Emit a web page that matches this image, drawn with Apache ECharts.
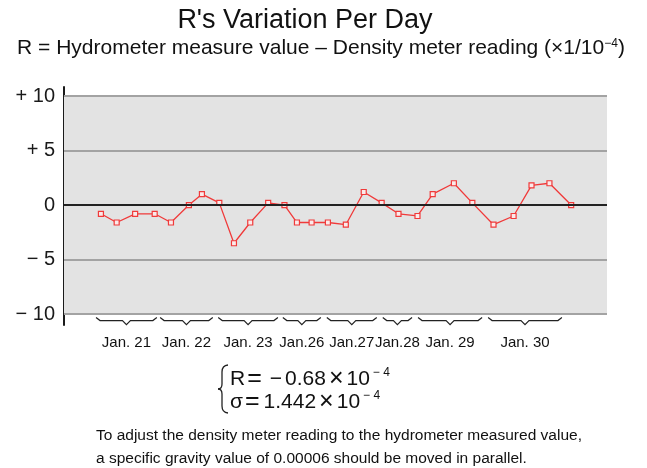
<!DOCTYPE html>
<html>
<head>
<meta charset="utf-8">
<script src="https://cdn.jsdelivr.net/npm/echarts@6/dist/echarts.min.js"></script>
<style>
html,body{margin:0;padding:0;background:#fff;}
#chart{width:647px;height:468px;}
</style>
</head>
<body>
<div id="chart"></div>
<script>
// ---- data ----
// measurement time along the period (axis units 0..100)
const times = [6.8, 9.7, 13.1, 16.7, 19.7, 23.0, 25.4, 28.6, 31.3, 34.3, 37.6, 40.6, 42.9, 45.6,
  48.6, 51.9, 55.2, 58.5, 61.6, 65.1, 67.9, 71.8, 75.2, 79.1, 82.8, 86.1, 89.4, 93.4];
// R values (×10^-4)
const rValues = [-0.8, -1.6, -0.8, -0.8, -1.6, 0, 1.0, 0.2, -3.5, -1.6, 0.2, 0, -1.6, -1.6,
  -1.6, -1.8, 1.2, 0.2, -0.8, -1.0, 1.0, 2.0, 0.2, -1.8, -1.0, 1.8, 2.0, 0];
// day groups
const days = ['Jan. 21', 'Jan. 22', 'Jan. 23', 'Jan.26', 'Jan.27', 'Jan.28', 'Jan. 29', 'Jan. 30'];
const dayStart = [5.9, 17.7, 28.4, 40.3, 48.4, 58.7, 65.2, 78.1];
const dayEnd = [17.1, 27.4, 39.4, 47.3, 57.6, 64.1, 77.0, 91.7];
// y ticks
const yTicks = [-10, -5, 0, 5, 10];
const yTickLabels = ['\u2212 10', '\u2212 5', '0', '+ 5', '+ 10'];
// statistics
const statMean = '\u22120.68';
const statSigma = '1.442';

const chart = echarts.init(document.getElementById('chart'), null, {renderer: 'canvas'});
const FONT = '"Liberation Sans", Arial, sans-serif';

function txt(x, y, text, size, extra) {
  return Object.assign({type: 'text', x: x, y: y,
    style: Object.assign({text: text, fontFamily: FONT, fontSize: size, fill: '#111', align: 'left', verticalAlign: 'middle'}, extra || {})});
}
const braceStroke = {stroke: '#222', lineWidth: 1.3, fill: null};
const formulaRich = {
  m: {fontSize: 21, fontFamily: FONT, fill: '#111'},
  eq: {fontSize: 25, fontFamily: FONT, fill: '#111', padding: [0, 4, 0, 2]},
  mi: {fontSize: 21, fontFamily: FONT, fill: '#111', padding: [0, 3, 0, 4]},
  x: {fontSize: 25, fontFamily: FONT, fill: '#111', padding: [0, 3, 0, 3]},
  s: {fontSize: 12, fontFamily: FONT, fill: '#111', verticalAlign: 'top', padding: [0, 0, 0, 3]}
};
function statLine(sym, val) {
  let v = val, minus = '';
  if (v.charAt(0) === '\u2212') { minus = '{mi|\u2212}'; v = v.slice(1); }
  return '{m|' + sym + '}{eq|=}' + minus + '{m|' + v + '}{x|\u00d7}{m|10}{s|\u2212 4}';
}

const option = {
  animation: false,
  backgroundColor: '#ffffff',
  grid: {left: 64, right: 40, top: 87, bottom: 143},
  xAxis: {type: 'value', min: 0, max: 100, show: false},
  yAxis: {
    type: 'value', min: -11, max: 10.83,
    axisLine: {show: true, onZero: false, lineStyle: {color: '#1a1a1a', width: 2}},
    axisTick: {show: false},
    splitLine: {show: false},
    axisLabel: {
      customValues: yTicks,
      margin: 9,
      color: '#1a1a1a',
      fontFamily: FONT,
      fontSize: 20,
      formatter: function (v) { return yTickLabels[yTicks.indexOf(v)]; }
    }
  },
  series: [
    {
      type: 'line', data: [], z: 1, silent: true,
      markArea: {
        silent: true,
        itemStyle: {color: '#e3e3e3'},
        data: [[{xAxis: 0, yAxis: yTicks[0]}, {xAxis: 100, yAxis: yTicks[yTicks.length - 1]}]]
      },
      markLine: {
        silent: true, symbol: 'none', label: {show: false},
        data: yTicks.map(v => ({
          yAxis: v,
          lineStyle: v === 0 ? {color: '#222222', width: 2, type: 'solid'} : {color: '#a3a3a3', width: 2, type: 'solid'}
        }))
      }
    },
    {
      type: 'custom', z: 2, silent: true,
      data: days.map((d, i) => [dayStart[i], dayEnd[i], i]),
      renderItem: function (params, api) {
        const s = api.coord([api.value(0), yTicks[0]]);
        const e = api.coord([api.value(1), yTicks[0]]);
        const idx = api.value(2);
        const y0 = s[1] + 3.5, y1 = s[1] + 6.5, y2 = s[1] + 10.5;
        const m = (s[0] + e[0]) / 2;
        return {
          type: 'group',
          children: [
            {
              type: 'polyline',
              shape: {points: [[s[0], y0], [s[0] + 4, y1], [m - 4, y1], [m, y2], [m + 4, y1], [e[0] - 4, y1], [e[0], y0]]},
              style: {stroke: '#222', lineWidth: 1.2, fill: null}
            },
            {
              type: 'text',
              x: m, y: s[1] + 29,
              style: {text: days[idx], fontFamily: FONT, fontSize: 15, fill: '#111', align: 'center', verticalAlign: 'middle'}
            }
          ]
        };
      }
    },
    {
      type: 'line', z: 3,
      data: times.map((t, i) => [t, rValues[i]]),
      symbol: 'rect', symbolSize: 5, showSymbol: true,
      lineStyle: {color: '#f03a3a', width: 1.3},
      itemStyle: {color: '#fbeaea', borderColor: '#f03a3a', borderWidth: 1.2}
    }
  ],
  graphic: [
    txt(305, 21, "R's Variation Per Day", 27, {align: 'center'}),
    txt(321, 48, 'R = Hydrometer measure value \u2013 Density meter reading (\u00d71/10{s|\u22124})', 21,
      {align: 'center', rich: {s: {fontSize: 12, verticalAlign: 'top', fontFamily: FONT, fill: '#111'}}}),
    {type: 'bezierCurve', shape: {x1: 228, y1: 365, x2: 222, y2: 372, cpx1: 222, cpy1: 365.5}, style: braceStroke},
    {type: 'line', shape: {x1: 222, y1: 372, x2: 222, y2: 384}, style: braceStroke},
    {type: 'bezierCurve', shape: {x1: 222, y1: 384, x2: 218, y2: 389, cpx1: 222, cpy1: 389}, style: braceStroke},
    {type: 'bezierCurve', shape: {x1: 218, y1: 389, x2: 222, y2: 394, cpx1: 222, cpy1: 389}, style: braceStroke},
    {type: 'line', shape: {x1: 222, y1: 394, x2: 222, y2: 406}, style: braceStroke},
    {type: 'bezierCurve', shape: {x1: 222, y1: 406, x2: 228, y2: 413, cpx1: 222, cpy1: 412.5}, style: braceStroke},
    txt(230, 379, statLine('R', statMean), 21, {rich: formulaRich}),
    txt(230, 402, statLine('\u03c3', statSigma), 21, {rich: formulaRich}),
    txt(96, 436, 'To adjust the density meter reading to the hydrometer measured value,', 15.5),
    txt(96, 459, 'a specific gravity value of 0.00006 should be moved in parallel.', 15.5)
  ]
};
chart.setOption(option);
</script>
</body>
</html>
